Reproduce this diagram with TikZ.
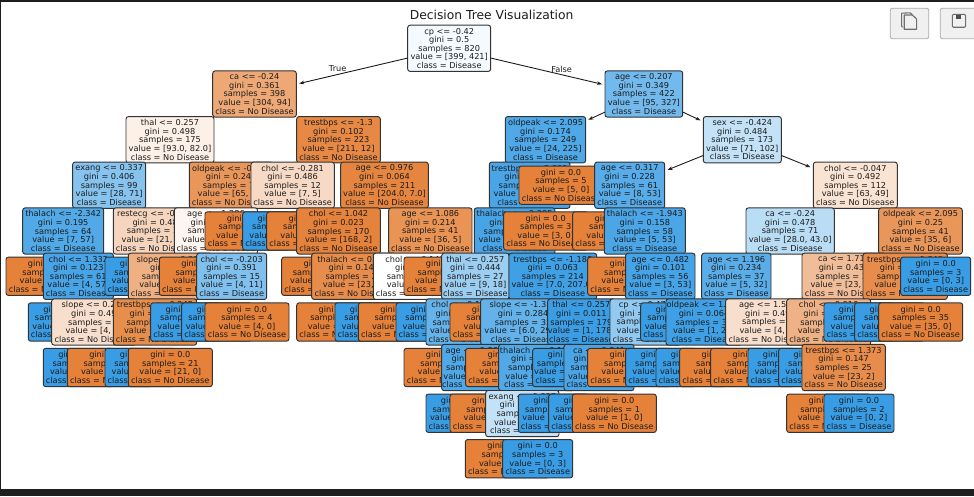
\documentclass[tikz,border=0pt]{standalone}
\usepackage{fontspec}
\setmainfont{DejaVu Sans}
\usetikzlibrary{arrows.meta}
\definecolor{oo}{RGB}{229,129,57}
\definecolor{bb}{RGB}{57,157,229}
\definecolor{frame}{HTML}{1E1E1E}
\definecolor{ink}{HTML}{1C1C1C}
\definecolor{edgec}{HTML}{333333}
\definecolor{btn}{HTML}{F0F0F0}
\definecolor{btnl}{HTML}{ABABAB}
\definecolor{icon}{HTML}{6E6E6E}
\tikzset{
  treebox/.style={draw=edgec,line width=0.95pt,rounded corners=2.4pt,inner sep=0pt,outer sep=0pt,
    align=center,text=ink,font=\fontsize{8.2}{8.62}\selectfont},
  edgeline/.style={draw=ink,line width=0.9pt,-{Stealth[length=5pt,width=3.6pt]},shorten >=3pt},
  edgelabel/.style={text=ink,font=\fontsize{8.2}{9}\selectfont,inner sep=0pt},
  toolbtn/.style={draw=btnl,fill=btn,line width=0.8pt,rounded corners=2pt,inner sep=0pt},
  iconline/.style={draw=icon,line width=1.1pt,line join=round}
}
% name, left, right, centre y, fill, text
\newcommand\splitbox[6]{%
  \pgfmathsetmacro\bw{#3-#2}\pgfmathsetmacro\bc{(#2+#3)/2}%
  \node[treebox,fill=#5,minimum width=\bw pt,minimum height=46.2pt] (#1) at (\bc,#4) {#6};}
% name, left, centre y, samples
\newcommand\leafo[4]{%
  \pgfmathsetmacro\bc{#2+42}%
  \node[treebox,fill=oo,minimum width=84pt,minimum height=38.3pt] (#1) at (\bc,#3)
    {gini = 0.0\\samples = #4\\value = [#4, 0]\\class = No Disease};}
\newcommand\leafb[4]{%
  \pgfmathsetmacro\bc{#2+35}%
  \node[treebox,fill=bb,minimum width=70pt,minimum height=38.3pt] (#1) at (\bc,#3)
    {gini = 0.0\\samples = #4\\value = [0, #4]\\class = Disease};}
\newcommand\ND{class = No Disease}
\newcommand\DI{class = Disease}
\begin{document}
\begin{tikzpicture}[x=1pt,y=-1pt]
\clip (0,0) rectangle (974,496);
\fill[frame] (0,0) rectangle (974,496);
\fill[white] (1,2) rectangle (974,489);

% title
\node[text=ink,font=\fontsize{12.3}{14}\selectfont,inner sep=0pt] (title) at (491.6,15.3) {Decision Tree Visualization};

% toolbar buttons
\node[toolbtn,minimum width=38.4pt,minimum height=30.4pt] (copybtn) at (909.5,23.5) {};
\node[toolbtn,minimum width=38.4pt,minimum height=30.4pt] (savebtn) at (959.5,23.5) {};
\draw[iconline] (902.6,27.2) -- (901.6,26.2) -- (901.6,13.2) -- (910,12.8) -- (912.4,14.6);
\draw[iconline,fill=btn] (904.2,15) -- (912.4,15) -- (916.6,19) -- (916.6,29.2) -- (904.2,29.2) -- cycle;
\draw[iconline,fill=btn,rounded corners=1pt] (952.4,14.4) -- (965.6,14.4) -- (965.6,27.2) -- (952.4,27.2) -- cycle;
\fill[icon!70!black] (955.6,14.6) rectangle (960.8,18.6);

% level 0
\splitbox{n0}{407.7}{490.7}{48.3}{bb!5!white}{cp <= -0.42\\gini = 0.5\\samples = 820\\value = [399, 421]\\\DI}
% level 1
\splitbox{n1}{212.7}{296.3}{94}{oo!69!white}{ca <= -0.24\\gini = 0.361\\samples = 398\\value = [304, 94]\\\ND}
\splitbox{n2}{605}{682.7}{94}{bb!71!white}{age <= 0.207\\gini = 0.349\\samples = 422\\value = [95, 327]\\\DI}
% level 2
\splitbox{n3}{126}{214}{139.7}{oo!12!white}{thal <= 0.257\\gini = 0.498\\samples = 175\\value = [93.0, 82.0]\\\ND}
\splitbox{n4}{296.7}{380.3}{139.7}{oo!94!white}{trestbps <= -1.3\\gini = 0.102\\samples = 223\\value = [211, 12]\\\ND}
\splitbox{n5}{505.3}{585.7}{139.7}{bb!89!white}{oldpeak <= 2.095\\gini = 0.174\\samples = 249\\value = [24, 225]\\\DI}
\splitbox{n6}{703.3}{781.3}{139.7}{bb!30!white}{sex <= -0.424\\gini = 0.484\\samples = 173\\value = [71, 102]\\\DI}
% level 3
\splitbox{n7}{72.7}{145.7}{185.2}{bb!61!white}{exang <= 0.337\\gini = 0.406\\samples = 99\\value = [28, 71]\\\DI}
\splitbox{n8}{189.3}{273}{185.2}{oo!83!white}{oldpeak <= -0.551\\gini = 0.248\\samples = 76\\value = [65, 11]\\\ND}
\splitbox{n9}{251}{334.3}{185.2}{oo!29!white}{chol <= -0.281\\gini = 0.486\\samples = 12\\value = [7, 5]\\\ND}
\splitbox{n10}{340.7}{428.3}{185.2}{oo!97!white}{age <= 0.976\\gini = 0.064\\samples = 211\\value = [204.0, 7.0]\\\ND}
\splitbox{n11}{489.3}{570}{185.2}{bb!92!white}{trestbps <= 2.305\\gini = 0.144\\samples = 244\\value = [19, 225]\\\DI}
\leafo{n12}{519}{185.2}{5}
\splitbox{n13}{594.7}{664.7}{185.2}{bb!85!white}{age <= 0.317\\gini = 0.228\\samples = 61\\value = [8, 53]\\\DI}
\splitbox{n14}{813.3}{897.3}{185.2}{oo!22!white}{chol <= -0.047\\gini = 0.492\\samples = 112\\value = [63, 49]\\\ND}
% level 4
\splitbox{n15}{22.7}{103.7}{231}{bb!88!white}{thalach <= -2.342\\gini = 0.195\\samples = 64\\value = [7, 57]\\\DI}
\splitbox{n16}{113.3}{197}{231}{oo!33!white}{restecg <= -0.412\\gini = 0.48\\samples = 35\\value = [21, 14]\\\ND}
\splitbox{n17}{174.3}{257.5}{231}{oo!8!white}{age <= 1.286\\gini = 0.497\\samples = 24\\value = [13, 11]\\\ND}
\leafo{n18}{205}{231}{52}
\leafb{n19}{242.7}{231}{5}
\leafo{n20}{266.7}{231}{7}
\splitbox{n21}{296.7}{380.3}{231}{oo!99!white}{chol <= 1.042\\gini = 0.023\\samples = 170\\value = [168, 2]\\\ND}
\splitbox{n22}{388.7}{472}{231}{oo!86!white}{age <= 1.086\\gini = 0.214\\samples = 41\\value = [36, 5]\\\ND}
\splitbox{n23}{474.3}{555}{231}{bb!93!white}{thalach <= -2.205\\gini = 0.124\\samples = 241\\value = [16, 225]\\\DI}
\leafo{n24}{503.7}{231}{3}
\leafo{n25}{572.7}{231}{3}
\splitbox{n26}{604.3}{685.3}{231}{bb!91!white}{thalach <= -1.943\\gini = 0.158\\samples = 58\\value = [5, 53]\\\DI}
\splitbox{n27}{746}{834.3}{231}{bb!35!white}{ca <= -0.24\\gini = 0.478\\samples = 71\\value = [28.0, 43.0]\\\DI}
\splitbox{n28}{878.7}{962.3}{231}{oo!83!white}{oldpeak <= 2.095\\gini = 0.25\\samples = 41\\value = [35, 6]\\\ND}
% level 5
\leafo{n29}{6}{276.3}{3}
\splitbox{n30}{43.3}{113.3}{276.3}{bb!93!white}{chol <= 1.332\\gini = 0.123\\samples = 61\\value = [4, 57]\\\DI}
\leafb{n31}{105}{276.3}{6}
\splitbox{n32}{128.3}{212}{276.3}{oo!62!white}{slope <= -0.315\\gini = 0.4\\samples = 29\\value = [21, 8]\\\ND}
\leafo{n33}{159.3}{276.3}{9}
\splitbox{n34}{196.7}{266.7}{276.3}{bb!64!white}{chol <= -0.203\\gini = 0.391\\samples = 15\\value = [4, 11]\\\DI}
\leafo{n35}{281.7}{276.3}{145}
\splitbox{n36}{311.7}{396}{276.3}{oo!91!white}{thalach <= 0.412\\gini = 0.147\\samples = 25\\value = [23, 2]\\\ND}
\splitbox{n37}{373.3}{457}{276.3}{white}{chol <= 0.143\\gini = 0.5\\samples = 10\\value = [5, 5]\\\ND}
\leafo{n38}{404}{276.3}{31}
\splitbox{n39}{441.7}{509}{276.3}{bb!50!white}{thal <= 0.257\\gini = 0.444\\samples = 27\\value = [9, 18]\\\DI}
\splitbox{n40}{509}{596.7}{276.3}{bb!97!white}{trestbps <= -1.188\\gini = 0.063\\samples = 214\\value = [7.0, 207.0]\\\DI}
\leafo{n41}{587.7}{276.3}{2}
\splitbox{n42}{625.7}{695}{276.3}{bb!94!white}{age <= 0.482\\gini = 0.101\\samples = 56\\value = [3, 53]\\\DI}
\splitbox{n43}{701.7}{771}{276.3}{bb!84!white}{age <= 1.196\\gini = 0.234\\samples = 37\\value = [5, 32]\\\DI}
\splitbox{n44}{802}{886}{276.3}{oo!52!white}{ca <= 1.715\\gini = 0.438\\samples = 34\\value = [23, 11]\\\ND}
\splitbox{n45}{863}{947.3}{276.3}{oo!91!white}{trestbps <= 0.848\\gini = 0.145\\samples = 38\\value = [35, 3]\\\ND}
\leafb{n46}{900.7}{276.3}{3}
% level 6
\leafb{n47}{28.3}{322}{54}
\splitbox{n48}{51.7}{136}{322}{oo!25!white}{slope <= 0.247\\gini = 0.49\\samples = 7\\value = [4, 3]\\\ND}
\splitbox{n49}{113.3}{196.7}{322}{oo!90!white}{trestbps <= 0.242\\gini = 0.159\\samples = 23\\value = [21, 2]\\\ND}
\leafb{n50}{150.7}{322}{6}
\leafb{n51}{181.7}{322}{11}
\leafo{n52}{205}{322}{4}
\leafo{n53}{296.7}{322}{23}
\leafb{n54}{335}{322}{2}
\leafo{n55}{358.3}{322}{5}
\leafb{n56}{396}{322}{5}
\splitbox{n57}{426}{496}{322}{bb!78!white}{chol <= 0.186\\gini = 0.298\\samples = 22\\value = [4, 18]\\\DI}
\leafo{n58}{450}{322}{5}
\splitbox{n59}{480.7}{565.5}{322}{bb!79!white}{slope <= -1.358\\gini = 0.284\\samples = 35\\value = [6.0, 29.0]\\\DI}
\splitbox{n60}{547.7}{615}{322}{bb!99!white}{thal <= 0.257\\gini = 0.011\\samples = 179\\value = [1, 178]\\\DI}
\splitbox{n61}{610}{680}{322}{bb!55!white}{cp <= 0.473\\gini = 0.397\\samples = 11\\value = [3, 8]\\\DI}
\leafb{n62}{640.7}{322}{45}
\splitbox{n63}{666}{742}{322}{bb!97!white}{oldpeak <= 1.447\\gini = 0.064\\samples = 30\\value = [1, 29]\\\DI}
\splitbox{n64}{725.7}{810}{322}{oo!25!white}{age <= 1.512\\gini = 0.49\\samples = 7\\value = [4, 3]\\\ND}
\splitbox{n65}{786.7}{870.7}{322}{oo!61!white}{chol <= 0.916\\gini = 0.404\\samples = 32\\value = [23, 9]\\\ND}
\leafb{n66}{824}{322}{2}
\leafb{n67}{854.7}{322}{3}
\leafo{n68}{878.7}{322}{35}
% level 7
\leafb{n69}{43.3}{367.5}{3}
\leafo{n70}{67.3}{367.5}{4}
\leafb{n71}{105}{367.5}{2}
\leafo{n72}{128.3}{367.5}{21}
\leafo{n73}{404}{367.5}{2}
\splitbox{n74}{441.7}{507}{367.5}{bb!89!white}{age <= 0.864\\gini = 0.18\\samples = 20\\value = [2, 18]\\\DI}
\leafo{n75}{465.7}{367.5}{4}
\splitbox{n76}{498.7}{574}{367.5}{bb!88!white}{thalach <= 0.124\\gini = 0.121\\samples = 31\\value = [2, 29]\\\DI}
\leafb{n77}{532.7}{367.5}{165}
\splitbox{n78}{564}{634}{367.5}{bb!92!white}{ca <= 0.841\\gini = 0.133\\samples = 14\\value = [1, 13]\\\DI}
\leafo{n79}{587.7}{367.5}{3}
\leafb{n80}{625.7}{367.5}{8}
\leafb{n81}{656}{367.5}{29}
\leafo{n82}{679.7}{367.5}{1}
\leafo{n83}{710.7}{367.5}{4}
\leafb{n84}{748}{367.5}{3}
\leafb{n85}{778.7}{367.5}{7}
\splitbox{n86}{802}{885.3}{367.5}{oo!91!white}{trestbps <= 1.373\\gini = 0.147\\samples = 25\\value = [23, 2]\\\ND}
% level 8
\leafb{n87}{426}{413.3}{18}
\leafo{n88}{450}{413.3}{2}
\splitbox{n89}{485.7}{559}{413.6}{bb!30!white}{exang <= 0.337\\gini = 0.48\\samples = 5\\value = [2, 3]\\\DI}
\leafb{n90}{518.3}{413.3}{26}
\leafb{n91}{548.7}{413.3}{13}
\leafo{n92}{572.3}{413.3}{1}
\leafo{n93}{786.7}{413.3}{23}
\leafb{n94}{824}{413.3}{2}
% level 9
\leafo{n95}{465.3}{458.7}{2}
\leafb{n96}{502.7}{458.7}{3}

% visible connectors
\draw[edgeline] (n0) -- (n1);
\draw[edgeline] (n0) -- (n2);
\draw[edgeline] (n2) -- (n5);
\draw[edgeline] (n2) -- (n6);
\draw[edgeline] (n6) -- (n13);
\draw[edgeline] (n6) -- (n14);
\node[edgelabel] (truelab) at (337.7,69) {True};
\node[edgelabel] (falselab) at (561.7,69) {False};
\end{tikzpicture}
\end{document}
